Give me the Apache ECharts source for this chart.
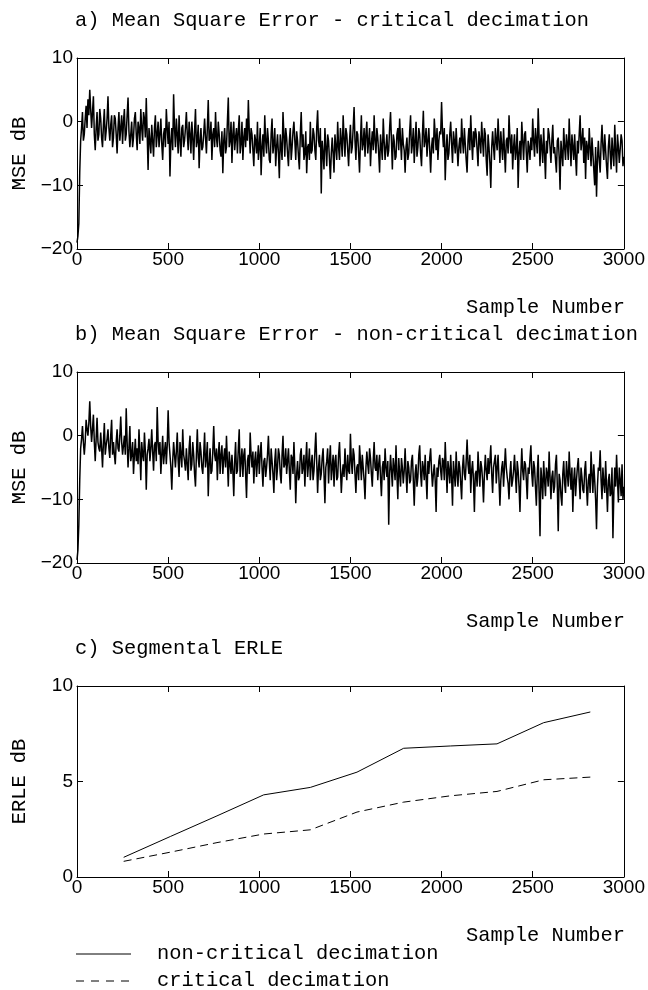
<!DOCTYPE html>
<html><head><meta charset="utf-8">
<script src="https://cdn.jsdelivr.net/npm/echarts@6/dist/echarts.min.js"></script>
<style>html,body{margin:0;padding:0;background:#fff}#c{width:648px;height:990px}</style>
</head><body><div id="c"></div>
<script>
// ---------- data ----------
// values read (estimated) from the picture: main samples at 0,10,...,3000
// and in-between samples at 5,15,...,2995
const sampleStep = 5;
const mseCritical = [
-19,-16,-3,1.5,-2,2.5,3.5,5,-1,4,
-4.5,1.5,-2,0.5,-4,2,-1.5,4,-3,1,
-2.5,0.5,-5,1.5,-1,-3.5,2,-2,3.8,-4,
0,-2.5,1.5,-4.5,-1,2,-3,0.5,3.7,-7.6,
-3,-0.5,-5.5,1,-2,-4,0.5,-6,-1,2,
-3.5,-8.6,-1,4.3,-4,-2,1,-5.5,-0.5,-3,
1.5,-4.5,-2,0,-6,2,-3,-7.3,-1,-4,
0.5,-5,3.4,-2.5,-6,-1,1.5,-4,-2,-5.5,
-8.1,-1,-4,3.8,-3,-6.5,0,-2.5,-5,1,
-3.5,-6,-1,0.5,3.4,-5,-2,-7,-3,0,
-4,-8.4,-2,1,-5,-3,-6.5,0.5,-3.5,-7,
-2,-8.9,-4,1.5,-5.5,-2.5,-7,-1,-4,0,
-6,-3,-7.5,1.5,-2,-5,-8.1,-3.5,0,-4.5,
-2,-6,1.8,-4,-11.3,-5,-1,-7,-3,-9,
-2.5,-8,-4,0,-6,-3,1,-5.5,-2,-7,
-0.5,-4,2.3,-6,-2,-8,1,-3.5,-5.5,0,
-3,-7,-1.5,1,-5,-2.5,-8,-4,0.5,-6,
-2,-4.5,1.5,-7.5,-3,-5.5,-1,0.5,-6,-3.5,
-8,-2.5,-5,1,-3.5,-6.5,0,-4,-2,-7,
1.7,-3,-5.5,-1,-8,-2.5,0.5,-4.5,-6,-1.5,
3.1,-4,-9.2,-2,-5,0,-6.5,-3,-1,-7,
-2.5,0.5,-5,-3.5,-8,-1,1,-6,-4,-2,
-7,-3,0,-5.5,-2,-8.5,-4,-10.4,-1.5,-6,
-3,0.5,-6.5,-4,-1,-8,-2.5,1,-5,-7.5,
-2,-4.5,-10.4,-3,0,-6,-1.5,-8,-4,-2.5,
0.5,-5.5,-3,2.1,-7,-4,-1,-9,-5,-2,
-6.5,-0.5,-4,-8,-2.5,-10.7,-5,-1,-6,-3.5,
0.5,-7,-4,-2,-8.5,-5,1,-3,-6.5,-9,
-4,-1,-7,-5,-10,-11.8,-3,-8,-0.5,-6,
-4.5,-9,-2,-7.5,-5,-0.5,-8,-4,-6.5,-3,
-5.5];
const mseCriticalMid = [
-18,-8,-1,-3,0.5,-1,1,2,1.5,-2,
-1,-3,2,-2.5,-0.5,-3,0.5,-1,-0.5,-4,
1,-2,-1,-3,1,0,-3,1,-1.5,-2,
-4,0.5,-2,0,-3.5,-1,1.5,-2.5,-2,-1,
-5,-3,-1,-4,0,-2,-3.5,-2,-4,-1,
0,-3,-4.5,-1,0.5,-5,-3,-1,-4,-1,
-2,0,-5,-2.5,-1.5,-4,-0.5,-3,-4.5,-2,
-2.5,-1,-3,0,-2,-4,-2.5,0,-4.5,-1.5,
-3,-5,0,-4,0,-2,-4.5,-1,-1.5,-5,
0,-2.5,-4,-3,-1.5,-1,-4.5,-2,-5,-6,
-1,-4,-5.5,-3,-1,-6,-2,-5,-1,-4,
-5,-2,-6,-2,-1,-5,-3,-6,-1.5,-3,
-1.5,-5.5,-2,-4,-6,-1.5,-4,-6,-5,-1,
-4.5,-1,-3,-1,-3,-7.5,-4,-2,-6,-5,
-5,-2,-6,-4,-1,-5.5,-2.5,-1,-4.5,-3,
-5,-1,-3,-1.5,-5,-3,-4.5,-1,-2,-5,
-1,-3.5,-4.5,-3,-1,-5,-2,-6,-3,-4,
-5.5,-1,-3,-2,-6,-2,-4.5,-3,-1,-4.5,
-4,-6,-1.5,-5,-1,-3,-5.5,-1,-5,-2,
-4,-1,-3,-4.5,-4,-5,-2,-1,-3,-2,
-1.5,-1,-4.5,-6,-2,-3.5,-1.5,-5,-4,-4,
-5,-3,-1,-6,-3,-4.5,-3,-1.5,-1,-4.5,
-1.5,-5,-3,-1,-6,-2,-6.5,-4,-4,-1,
-4.5,-3,-1.5,-6,-4.5,-3,-5,-2.5,-2,-4,
-6,-1,-5,-6,-3,-2,-5,-3,-6,-4.5,
-3,-1,-5,-2.5,-2,-6.5,-5,-3,-1,-4,
-3,-5,-6,-3,-5.5,-3,-7,-4,-2,-6,
-3.5,-2,-6,-5.5,-3,-2,-4.5,-1,-2.5,-3,
-6,-4,-2.5,-7.5,-4,-6,-6,-3.5,-4,-2,
-7,-4,-5,-2.5,-7,-4.5,-2,-6.5,-2,-7];
const mseNonCritical = [
-19.5,-14,-2,1.5,-3,2.5,0,5.4,-1,3.3,
-4,2.8,-2,0.5,-5,2,-1.5,1,-3.5,2.5,
-1,-4.5,1,-2.5,3,-3,0,4.3,-5,1.5,
-3,-6,-0.5,-2,1,-7,-3,0.5,-8.5,-2,
-4,1,-5.5,-1,4.5,-3,-6,0,-2.5,-4.5,
4,-3,-8.5,-1,-5,0.5,-6.5,-3,1,-4,
-2,-7,0,-4.5,-3,-8,1,-5,-2.5,-6,
0.5,-3.5,-9.5,-2,-5.5,1.5,-4,-7,-1,-3,
-6,-2,0,-8,-4.5,-3,-9.5,-1,-5.5,1,
-4,-6.5,-2,-9.8,-3,0.5,-5,-7.5,-2.5,-4,
-6,-1,-8,-3.5,-5,0,-7,-4,-9,-2,
-5,-3,-7.5,0,-4.5,-6,-2,-8.5,-3.5,-1,
-10.6,-4,-6.5,-2,-5,-8,-1,-4.5,-7,-3,
-5.5,0.5,-9,-3,-6,-2,-10.6,-4,-7.5,-1.5,
-5,-8,-3,-6.5,-1,-9,-4.5,-2,-7,-5.5,
0.3,-6,-3,-9,-4.5,-1.5,-7,-5,-10,-2.5,
-6,-3.5,-8,-1,-5.5,-7,-3,-9.5,-4,-2,
-6.5,-14,-3,-8,-5,-1.5,-10,-6,-3.5,-7.5,
-2,-9,-5,-7,-3,-11,-4.5,-6.5,-1.5,-8,
-5,-3,-10,-6,-2,-8,-4.5,-12,-6.5,-3,
-7,-4,-1,-9,-5.5,-3,-11,-6,-2.5,-8,
-5,-10,-3,-7,-0.6,-6,-9,-4,-12,-5.5,
-2.5,-8,-5,-10.5,-3,-7,-6,-1.5,-9,-4,
-7.5,-3,-11,-5,-8,-2,-6.5,-10,-4,-7,
-3,-9,-5.5,-12,-2,-7,-4.5,-10,-6,-1.5,
-8,-5,-11,-3,-15.8,-7,-4,-9.5,-6,-2.5,
-10,-5.5,-8,-3,-15,-7,-11,-4,-9,-6,
-2.5,-8.5,-12,-5,-7,-3.5,-10,-6.5,-9,-4,
-11,-6,-2.5,-9,-7,-14.7,-5,-2.3,-10,-7.5,
-4,-12,-6,-9,-16.1,-5,-3,-10.5,-7,-4.5,
-8];
const mseNonCriticalMid = [
-18,-7,-0.5,-1,-1,1,2,1.5,1,-1,
-0.5,-1,-2.5,-2,-1,-3,-0.5,-2,0,-3,
-3,-1,-2,0,-1,-1.5,-3,-1,-2,-4,
-1,-3,-4,-4.5,-2.5,-1,-4,-2.5,-3,-0.5,
-2,-2.5,-1.5,-4,-1,-1,-3,-4.5,-1,-1.5,
-1,-5,-4,-3,-2.5,-4,-1,-5,-3,-5.5,
-4.5,-2,-5.5,-1,-6,-3,-3.5,-1,-5,-3,
-5,-1,-4.5,-6,-2.5,-3,-2,-3,-6,-1.5,
-3.5,-5,-4,-2.5,-6,-5.5,-4,-6,-2,-6.5,
-2,-3,-6,-4,-6,-3,-2.5,-4,-6.5,-1.5,
-3,-5,-4,-6.5,-3,-4,-2,-6,-4,-7,
-2,-6,-3,-5,-2,-4,-5.5,-3,-6,-5,
-6,-7,-3,-6,-3,-4,-6.5,-2,-4.5,-7,
-2.5,-4,-5,-7,-3.5,-6,-5,-2,-4,-7,
-3,-4,-7,-3,-5,-6,-6.5,-5,-3,-6,
-4,-2,-6,-5,-7,-4,-3,-7,-5,-4.5,
-2,-6,-4,-5,-3,-4.5,-6.5,-5,-7,-5,
-4,-6,-5.5,-3.5,-7,-6,-3.5,-8,-5,-5.5,
-6,-4,-7.5,-4,-7,-6,-8,-3,-6,-4,
-7,-6.5,-4,-3.5,-5.5,-6,-7,-5,-4,-5.5,
-3.5,-7,-5,-4,-7.5,-6.5,-4,-8,-6,-4,
-7.5,-5,-6,-4,-4.5,-3,-5.5,-7,-6,-8,
-5.5,-4,-7,-6,-5.5,-3.5,-4,-6,-5,-3,
-5,-7,-7,-4,-5,-5,-7.5,-6,-8,-5.5,
-6,-4,-8,-6,-5.5,-4,-7,-5,-3.5,-6,
-4,-8,-6,-9,-5,-10,-7,-5,-8,-6.5,
-6.5,-9,-4.5,-8,-6,-9.5,-6,-7.5,-4,-8,
-6,-5,-7,-9.5,-5,-7,-5,-8.5,-5.5,-8,
-7,-9,-6,-4.5,-10,-8,-5.5,-7,-5,-9,
-8,-7,-9.5,-5,-9,-8,-7,-5,-9.5,-10];
const erleSamples     = [256, 512, 768, 1024, 1280, 1536, 1792, 2048, 2304, 2560, 2816];
const erleNonCritical = [1.03, 2.12, 3.2, 4.3, 4.69, 5.49, 6.74, 6.86, 6.97, 8.08, 8.64];
const erleCritical    = [0.82, 1.3, 1.8, 2.25, 2.47, 3.4, 3.92, 4.25, 4.48, 5.09, 5.23];
const xTickLabels   = [0, 500, 1000, 1500, 2000, 2500, 3000];
const mseTickLabels = [-20, -10, 0, 10];
const erleTickLabels = [0, 5, 10];
const panelTitles = ['a) Mean Square Error - critical decimation',
                     'b) Mean Square Error - non-critical decimation',
                     'c) Segmental ERLE'];
const xName = 'Sample Number';
const yNames = ['MSE dB', 'MSE dB', 'ERLE dB'];
const legendNames = ['non-critical decimation', 'critical decimation'];

// ---------- layout ----------
const L = 77, W = 547, H = 191;
const tops = [58, 372, 686];
const mono = '"Liberation Mono", "Courier New", monospace';
const sans = '"Liberation Sans", Arial, sans-serif';
const tickFont = 19;
const monoSize = '20.4px ';

// interleave main samples (even positions) with in-between samples (odd positions)
const toXY = (main, mid) => {
  const out = [];
  main.forEach((v, i) => {
    out.push([2 * i * sampleStep, v]);
    if (i < mid.length) out.push([(2 * i + 1) * sampleStep, mid[i]]);
  });
  return out;
};
const minus = (v) => String(v).replace('-', '\u2212');

const grids = tops.map(t => ({left: L, top: t, width: W, height: H, show: false}));
const yTicksFor = [mseTickLabels, mseTickLabels, erleTickLabels];

const xAxes = [], yAxes = [];
tops.forEach((t, i) => {
  ['bottom', 'top'].forEach(pos => {
    xAxes.push({
      type: 'value', gridIndex: i, position: pos,
      min: xTickLabels[0], max: xTickLabels[xTickLabels.length - 1],
      interval: xTickLabels[1] - xTickLabels[0],
      axisLine: {show: true, onZero: false, lineStyle: {color: '#000', width: 1}},
      axisTick: {show: true, inside: true, length: 6, lineStyle: {color: '#000', width: 1}},
      axisLabel: {show: pos === 'bottom', margin: 1, color: '#000', fontFamily: sans, fontSize: tickFont,
                  formatter: (v) => String(v), showMinLabel: true, showMaxLabel: true},
      splitLine: {show: false}
    });
  });
  const yt = yTicksFor[i];
  ['left', 'right'].forEach(pos => {
    yAxes.push({
      type: 'value', gridIndex: i, position: pos,
      min: yt[0], max: yt[yt.length - 1], interval: yt[1] - yt[0],
      axisLine: {show: true, onZero: false, lineStyle: {color: '#000', width: 1}},
      axisTick: {show: true, inside: true, length: 6, lineStyle: {color: '#000', width: 1}},
      axisLabel: {show: pos === 'left', margin: 4, color: '#000', fontFamily: sans, fontSize: tickFont,
                  formatter: minus, showMinLabel: true, showMaxLabel: true},
      splitLine: {show: false}
    });
  });
});

const lineBase = {type: 'line', showSymbol: false, symbol: 'none', silent: true, animation: false, z: 1};
const series = [
  Object.assign({}, lineBase, {name: 'a', xAxisIndex: 0, yAxisIndex: 0,
    data: toXY(mseCritical, mseCriticalMid), lineStyle: {color: '#000', width: 1.5}}),
  Object.assign({}, lineBase, {name: 'b', xAxisIndex: 2, yAxisIndex: 2,
    data: toXY(mseNonCritical, mseNonCriticalMid), lineStyle: {color: '#000', width: 1.5}}),
  Object.assign({}, lineBase, {name: legendNames[0], xAxisIndex: 4, yAxisIndex: 4,
    data: erleSamples.map((s, k) => [s, erleNonCritical[k]]),
    lineStyle: {color: '#000', width: 1}}),
  Object.assign({}, lineBase, {name: legendNames[1], xAxisIndex: 4, yAxisIndex: 4,
    data: erleSamples.map((s, k) => [s, erleCritical[k]]),
    lineStyle: {color: '#000', width: 1, type: [8, 5]}})
];

const graphic = [];
const txt = (text, x, y, align, extra) => Object.assign({
  type: 'text', x: x, y: y, silent: true,
  style: {text: text, font: monoSize + mono, fill: '#000', align: align, verticalAlign: 'middle'}
}, extra || {});
tops.forEach((t, i) => {
  graphic.push(txt(panelTitles[i], 75, t - 37, 'left'));
  graphic.push(txt(xName, 625, t + H + 59, 'right'));
  graphic.push(txt(yNames[i], 20, t + H / 2, 'center', {rotation: Math.PI / 2}));
});
// legend
const legY = [954, 981];
graphic.push({type: 'line', silent: true, shape: {x1: 76, y1: legY[0], x2: 131, y2: legY[0]},
              style: {stroke: '#000', lineWidth: 1}});
graphic.push({type: 'line', silent: true, shape: {x1: 76, y1: legY[1], x2: 131, y2: legY[1]},
              style: {stroke: '#000', lineWidth: 1, lineDash: [8, 7]}});
graphic.push(txt(legendNames[0], 157, legY[0], 'left'));
graphic.push(txt(legendNames[1], 157, legY[1], 'left'));

const chart = echarts.init(document.getElementById('c'), null, {renderer: 'canvas'});
chart.setOption({
  backgroundColor: '#fff',
  animation: false,
  grid: grids,
  xAxis: xAxes,
  yAxis: yAxes,
  series: series,
  graphic: graphic
});
</script></body></html>
